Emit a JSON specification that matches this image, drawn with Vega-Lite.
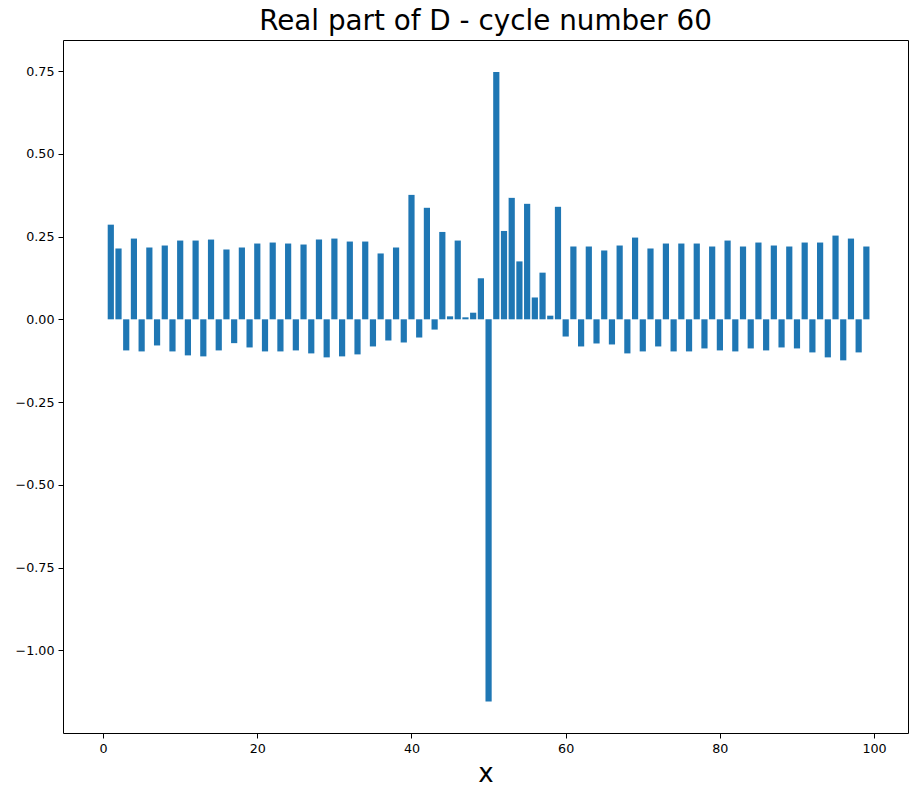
{
  "$schema": "https://vega.github.io/schema/vega-lite/v6.json",
  "width": 845,
  "height": 693,
  "autosize": {"type": "none"},
  "padding": {"left": 63, "top": 40, "right": 9, "bottom": 63},
  "background": "white",
  "config": {
    "font": "DejaVu Sans",
    "view": {"stroke": "black", "strokeWidth": 1},
    "axis": {
      "domain": false,
      "grid": false,
      "tickColor": "black",
      "tickSize": 5,
      "labelColor": "black",
      "labelFontSize": 12.7,
      "labelFont": "DejaVu Sans",
      "titleFont": "DejaVu Sans",
      "titleColor": "black",
      "titleFontWeight": "normal"
    }
  },
  "title": {
    "text": "Real part of D - cycle number 60",
    "fontSize": 27.8,
    "fontWeight": "normal",
    "font": "DejaVu Sans",
    "color": "black",
    "anchor": "middle",
    "offset": 4
  },
  "data": {
    "values": [
      {"x": 1, "v": 0.286}, {"x": 2, "v": 0.214}, {"x": 3, "v": -0.094}, {"x": 4, "v": 0.244},
      {"x": 5, "v": -0.097}, {"x": 6, "v": 0.217}, {"x": 7, "v": -0.079}, {"x": 8, "v": 0.223},
      {"x": 9, "v": -0.097}, {"x": 10, "v": 0.238}, {"x": 11, "v": -0.109}, {"x": 12, "v": 0.238},
      {"x": 13, "v": -0.112}, {"x": 14, "v": 0.241}, {"x": 15, "v": -0.094}, {"x": 16, "v": 0.211},
      {"x": 17, "v": -0.072}, {"x": 18, "v": 0.217}, {"x": 19, "v": -0.085}, {"x": 20, "v": 0.229},
      {"x": 21, "v": -0.097}, {"x": 22, "v": 0.232}, {"x": 23, "v": -0.097}, {"x": 24, "v": 0.229},
      {"x": 25, "v": -0.094}, {"x": 26, "v": 0.226}, {"x": 27, "v": -0.103}, {"x": 28, "v": 0.241},
      {"x": 29, "v": -0.115}, {"x": 30, "v": 0.244}, {"x": 31, "v": -0.112}, {"x": 32, "v": 0.235},
      {"x": 33, "v": -0.106}, {"x": 34, "v": 0.235}, {"x": 35, "v": -0.082}, {"x": 36, "v": 0.199},
      {"x": 37, "v": -0.064}, {"x": 38, "v": 0.217}, {"x": 39, "v": -0.070}, {"x": 40, "v": 0.376},
      {"x": 41, "v": -0.055}, {"x": 42, "v": 0.337}, {"x": 43, "v": -0.031}, {"x": 44, "v": 0.264},
      {"x": 45, "v": 0.009}, {"x": 46, "v": 0.238}, {"x": 47, "v": 0.006}, {"x": 48, "v": 0.020},
      {"x": 49, "v": 0.124}, {"x": 50, "v": -1.155}, {"x": 51, "v": 0.747}, {"x": 52, "v": 0.267},
      {"x": 53, "v": 0.367}, {"x": 54, "v": 0.175}, {"x": 55, "v": 0.349}, {"x": 56, "v": 0.066},
      {"x": 57, "v": 0.141}, {"x": 58, "v": 0.011}, {"x": 59, "v": 0.340}, {"x": 60, "v": -0.052},
      {"x": 61, "v": 0.220}, {"x": 62, "v": -0.082}, {"x": 63, "v": 0.220}, {"x": 64, "v": -0.073},
      {"x": 65, "v": 0.208}, {"x": 66, "v": -0.076}, {"x": 67, "v": 0.223}, {"x": 68, "v": -0.103},
      {"x": 69, "v": 0.247}, {"x": 70, "v": -0.097}, {"x": 71, "v": 0.214}, {"x": 72, "v": -0.082},
      {"x": 73, "v": 0.229}, {"x": 74, "v": -0.097}, {"x": 75, "v": 0.229}, {"x": 76, "v": -0.097},
      {"x": 77, "v": 0.229}, {"x": 78, "v": -0.088}, {"x": 79, "v": 0.220}, {"x": 80, "v": -0.094},
      {"x": 81, "v": 0.238}, {"x": 82, "v": -0.097}, {"x": 83, "v": 0.220}, {"x": 84, "v": -0.088},
      {"x": 85, "v": 0.232}, {"x": 86, "v": -0.094}, {"x": 87, "v": 0.223}, {"x": 88, "v": -0.085},
      {"x": 89, "v": 0.220}, {"x": 90, "v": -0.088}, {"x": 91, "v": 0.232}, {"x": 92, "v": -0.100},
      {"x": 93, "v": 0.232}, {"x": 94, "v": -0.115}, {"x": 95, "v": 0.253}, {"x": 96, "v": -0.124},
      {"x": 97, "v": 0.244}, {"x": 98, "v": -0.100}, {"x": 99, "v": 0.220}
    ]
  },
  "mark": {"type": "bar", "color": "#1f77b4", "size": 6.2, "orient": "vertical"},
  "encoding": {
    "x": {
      "field": "x",
      "type": "quantitative",
      "scale": {"domain": [-5.2, 104.4], "nice": false, "zero": false, "padding": 0},
      "axis": {
        "values": [0, 20, 40, 60, 80, 100],
        "title": "x",
        "titleFontSize": 26,
        "labelPadding": 4,
        "titlePadding": 6
      }
    },
    "y": {
      "field": "v",
      "type": "quantitative",
      "scale": {"domain": [-1.25, 0.844], "nice": false, "zero": false, "padding": 0},
      "axis": {
        "values": [-1.0, -0.75, -0.5, -0.25, 0, 0.25, 0.5, 0.75],
        "format": ".2f",
        "title": null,
        "labelPadding": 4
      }
    }
  }
}
